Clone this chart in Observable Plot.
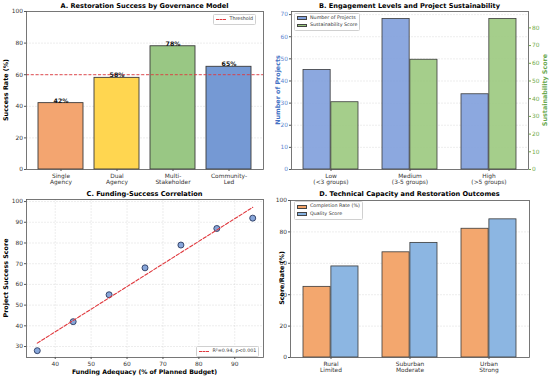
<!DOCTYPE html>
<html><head><meta charset="utf-8">
<script src="https://cdn.jsdelivr.net/npm/d3@7"></script>
<script src="https://cdn.jsdelivr.net/npm/@observablehq/plot@0.6"></script>
<style>
body{margin:0;background:#fff;}
#root{position:relative;width:550px;height:378px;overflow:hidden;background:#fff;font-family:"DejaVu Sans",sans-serif;}
#root svg{position:absolute;overflow:visible;}
.title{position:absolute;font-weight:bold;font-size:6.6px;white-space:nowrap;transform:translate(-50%,-50%);color:#000;}
.lab{position:absolute;font-weight:bold;font-size:6.2px;white-space:nowrap;transform:translate(-50%,-50%);color:#000;}
.ylab{position:absolute;font-weight:bold;font-size:6.4px;white-space:nowrap;transform:translate(-50%,-50%) rotate(-90deg);color:#000;}
.legend{position:absolute;background:#fff;border:0.6px solid #d0d0d0;border-radius:1.5px;font-size:4.8px;color:#333;padding:1.2px 2px;line-height:1;}
.legend .row{display:flex;align-items:center;height:7.2px;white-space:nowrap;}
.legend .sw{display:inline-block;width:9.5px;height:3.6px;margin-right:3.5px;border:0.6px solid #444;box-sizing:border-box;}
.legend .ln{display:inline-block;width:10px;height:0;border-top:1px dashed #e0393e;margin-right:3.5px;}
</style>
</head><body><div id="root"></div>
<script>
// ---- Data ----
const govModels = ["Single\nAgency", "Dual\nAgency", "Multi-\nStakeholder", "Community-\nLed"];
const successRates = [42, 58, 78, 65];
const threshold = 60;

const engageLevels = ["Low\n(<3 groups)", "Medium\n(3-5 groups)", "High\n(>5 groups)"];
const projectCounts = [45, 68, 34];
const sustainScores = [38, 62, 85];

const fundingAdequacy = [35, 45, 55, 65, 75, 85, 95];
const successScores = [28, 42, 55, 68, 79, 87, 92];
const fitLabel = "R²=0.94, p<0.001";

const capacityLevels = ["Rural\nLimited", "Suburban\nModerate", "Urban\nStrong"];
const completionRates = [45, 67, 82];
const qualityScores = [58, 73, 88];

// ---- Styles ----
const govColors = ["#F2A068", "#FFD447", "#93C47D", "#6E93D2"];
const blueB = "#7F9FDB", greenB = "#9BC97E";
const blueTxt = "#5B84CF", greenTxt = "#6FAA4A";
const orangeD = "#F2A266", blueD = "#86B2E0";
const W = 275, H = 189;
const root = document.getElementById("root");
const baseStyle = {background: "transparent", fontFamily: "DejaVu Sans, sans-serif", fontSize: "5.9px", color: "#333", overflow: "visible"};
const gridStyle = {stroke: "#999", strokeOpacity: 0.35, strokeWidth: 0.5, strokeDasharray: "2,1"};
const frameStyle = {stroke: "#555", strokeWidth: 0.8};
const axX = {tickSize: 2, tickPadding: 1.5, fill: "#333", stroke: "#555", lineHeight: 1.1, label: null};
const axY = {tickSize: 2, tickPadding: 1.5, fill: "#333", stroke: "#555", label: null};

function place(el, left, top) { el.style.left = left + "px"; el.style.top = top + "px"; root.appendChild(el); }
function html(cls, text, x, y, color) {
  const d = document.createElement("div"); d.className = cls; d.textContent = text;
  if (color) d.style.color = color;
  d.style.left = x + "px"; d.style.top = y + "px"; root.appendChild(d); return d;
}
function legend(x, y, items) {
  const d = document.createElement("div"); d.className = "legend";
  for (const it of items) {
    const r = document.createElement("div"); r.className = "row";
    const s = document.createElement("span");
    if (it.line) { s.className = "ln"; } else { s.className = "sw"; s.style.background = it.color; }
    r.appendChild(s);
    const t = document.createElement("span"); t.textContent = it.label; r.appendChild(t);
    d.appendChild(r);
  }
  d.style.left = x + "px"; d.style.top = y + "px"; root.appendChild(d);
}

// ---- Panel A ----
const dataA = govModels.map((m, i) => ({model: m, rate: successRates[i], color: govColors[i]}));
const plotA = Plot.plot({
  width: W, height: H, marginLeft: 26, marginRight: 12, marginTop: 11, marginBottom: 20,
  style: baseStyle,
  color: {type: "identity"},
  x: {type: "band", domain: govModels, paddingInner: 0.2, paddingOuter: 0.19},
  y: {domain: [0, 100]},
  marks: [
    Plot.gridY([20, 40, 60, 80], gridStyle),
    Plot.barY(dataA, {x: "model", y: "rate", fill: "color", fillOpacity: 0.95, stroke: "#3a3a3a", strokeWidth: 0.9}),
    Plot.ruleY([threshold], {stroke: "#e0393e", strokeWidth: 0.9, strokeDasharray: "3,1.8"}),
    Plot.text(dataA, {x: "model", y: "rate", text: d => d.rate + "%", dy: -0.4, lineAnchor: "bottom", fontWeight: "bold", fontSize: 6.2, fill: "#111"}),
    Plot.axisX(axX),
    Plot.axisY({...axY, ticks: [0, 20, 40, 60, 80, 100]}),
    Plot.frame(frameStyle)
  ]
});
place(plotA, 0, 0);
html("title", "A. Restoration Success by Governance Model", 144.5, 6);
html("ylab", "Success Rate (%)", 6, 90);
legend(213, 13.5, [{line: true, label: "Threshold"}]);

// ---- Panel B ----
const dataB = engageLevels.map((l, i) => ({level: l, projects: projectCounts[i], sustain: sustainScores[i]}));
const xB = {type: "band", domain: engageLevels, range: [16, 253], paddingInner: 0.3, paddingOuter: 0.14};
const bwB = Plot.scale({x: xB}).bandwidth;
const plotB1 = Plot.plot({
  width: W, height: H, marginLeft: 16, marginRight: 22, marginTop: 11, marginBottom: 20,
  style: baseStyle,
  x: {...xB},
  y: {domain: [0, 71.4]},
  marks: [
    Plot.gridY(d3.range(10, 71, 10), gridStyle),
    Plot.barY(dataB, {x: "level", y: "projects", fill: blueB, fillOpacity: 0.9, stroke: "#3a3a3a", strokeWidth: 0.8, insetRight: bwB / 2}),
    Plot.axisX(axX),
    Plot.axisY({...axY, ticks: d3.range(0, 71, 10), fill: blueTxt}),
    Plot.frame(frameStyle)
  ]
});
place(plotB1, 275, 0);
const plotB2 = Plot.plot({
  width: W, height: H, marginLeft: 16, marginRight: 22, marginTop: 11, marginBottom: 20,
  style: baseStyle,
  x: {...xB, axis: null},
  y: {domain: [0, 89.25]},
  marks: [
    Plot.barY(dataB, {x: "level", y: "sustain", fill: greenB, fillOpacity: 0.9, stroke: "#3a3a3a", strokeWidth: 0.8, insetLeft: bwB / 2}),
    Plot.axisY({...axY, anchor: "right", ticks: d3.range(0, 81, 10), fill: greenTxt, stroke: greenTxt})
  ]
});
place(plotB2, 275, 0);
html("title", "B. Engagement Levels and Project Sustainability", 409.5, 6);
html("ylab", "Number of Projects", 278, 90, "#4472C4");
html("ylab", "Sustainability Score", 544.5, 90, "#6AA84F");
legend(294, 12.5, [{color: blueB, label: "Number of Projects"}, {color: greenB, label: "Sustainability Score"}]);

// ---- Panel C ----
const dataC = fundingAdequacy.map((f, i) => ({funding: f, score: successScores[i]}));
const plotC = Plot.plot({
  width: W, height: H, marginLeft: 26, marginRight: 12, marginTop: 11, marginBottom: 20,
  style: baseStyle,
  x: {domain: [32, 98]},
  y: {domain: [24.7, 101]},
  marks: [
    Plot.gridX(d3.range(40, 91, 10), gridStyle),
    Plot.gridY(d3.range(30, 101, 10), gridStyle),
    Plot.dot(dataC, {x: "funding", y: "score", r: 3, fill: "#7A9CD6", fillOpacity: 0.9, stroke: "#2B3A60", strokeWidth: 0.9}),
    Plot.linearRegressionY(dataC, {x: "funding", y: "score", ci: 0, stroke: "#e0393e", strokeWidth: 1.1, strokeDasharray: "3.5,1.8"}),
    Plot.axisX({...axX, ticks: d3.range(40, 91, 10)}),
    Plot.axisY({...axY, ticks: d3.range(30, 101, 10)}),
    Plot.frame(frameStyle)
  ]
});
place(plotC, 0, 188);
html("title", "C. Funding-Success Correlation", 144.5, 194);
html("ylab", "Project Success Score", 6, 278);
html("lab", "Funding Adequacy (% of Planned Budget)", 144.5, 371);
legend(196, 345.5, [{line: true, label: fitLabel}]);

// ---- Panel D ----
const dataD = capacityLevels.map((l, i) => ({level: l, completion: completionRates[i], quality: qualityScores[i]}));
const xD = {type: "band", domain: capacityLevels, range: [15, 254], paddingInner: 0.3, paddingOuter: 0.15};
const bwD = Plot.scale({x: xD}).bandwidth;
const plotD = Plot.plot({
  width: W, height: H, marginLeft: 15, marginRight: 21, marginTop: 12, marginBottom: 20,
  style: baseStyle,
  x: {...xD},
  y: {domain: [0, 100]},
  marks: [
    Plot.gridY(d3.range(20, 81, 20), gridStyle),
    Plot.barY(dataD, {x: "level", y: "completion", fill: orangeD, fillOpacity: 0.95, stroke: "#3a3a3a", strokeWidth: 0.8, insetRight: bwD / 2}),
    Plot.barY(dataD, {x: "level", y: "quality", fill: blueD, fillOpacity: 0.95, stroke: "#3a3a3a", strokeWidth: 0.8, insetLeft: bwD / 2}),
    Plot.axisX(axX),
    Plot.axisY({...axY, ticks: d3.range(0, 101, 20)}),
    Plot.frame(frameStyle)
  ]
});
place(plotD, 275, 188);
html("title", "D. Technical Capacity and Restoration Outcomes", 409.5, 194);
html("ylab", "Score/Rate (%)", 281.5, 278);
legend(294, 201, [{color: orangeD, label: "Completion Rate (%)"}, {color: blueD, label: "Quality Score"}]);
</script></body></html>
